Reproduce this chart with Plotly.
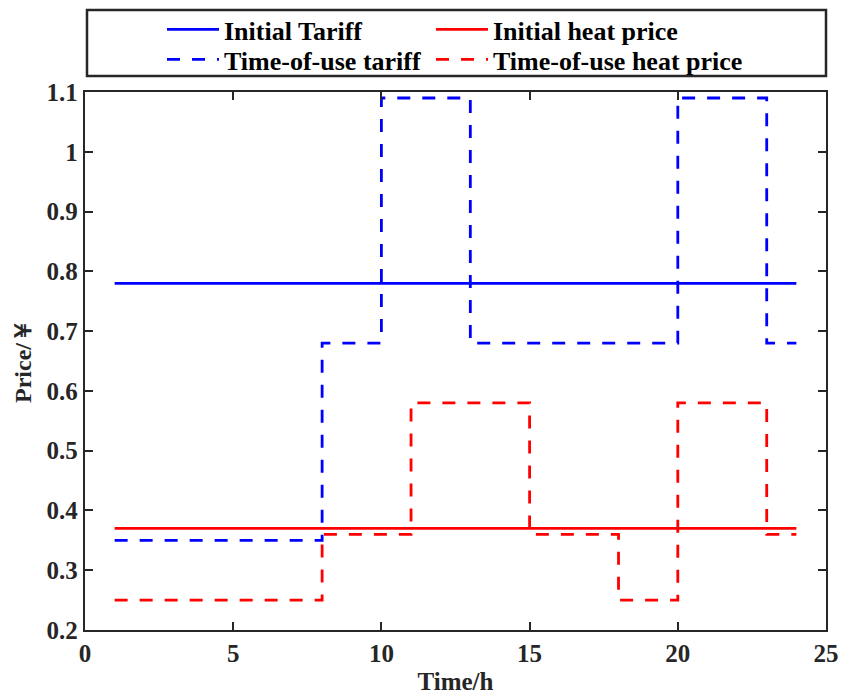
import plotly.graph_objects as go

# Hourly prices (hour 1..24), drawn as stairs
hours = list(range(1, 25))
initial_tariff = [0.78] * 24
initial_heat = [0.37] * 24
tou_tariff = [0.35, 0.35, 0.35, 0.35, 0.35, 0.35, 0.35, 0.68, 0.68, 1.09, 1.09, 1.09,
              0.68, 0.68, 0.68, 0.68, 0.68, 0.68, 0.68, 1.09, 1.09, 1.09, 0.68, 0.68]
tou_heat = [0.25, 0.25, 0.25, 0.25, 0.25, 0.25, 0.25, 0.36, 0.36, 0.36, 0.58, 0.58,
            0.58, 0.58, 0.36, 0.36, 0.36, 0.25, 0.25, 0.58, 0.58, 0.58, 0.36, 0.36]

names = ["Initial Tariff", "Initial heat price", "Time-of-use tariff", "Time-of-use heat price"]
series = [initial_tariff, initial_heat, tou_tariff, tou_heat]
colors = ["#0000FF", "#FF0000", "#0000FF", "#FF0000"]
dashes = ["solid", "solid", "13px,12px", "13px,12px"]

FONT = "Liberation Serif"
AX = "#262626"

# one single-entry legend per key, laid out as a 2x2 grid above the axes
legend_ids = ["legend", "legend2", "legend3", "legend4"]
legend_x = [(162 - 85) / 741, (431 - 85) / 741, (162 - 85) / 741, (431 - 85) / 741]
legend_y = [(630 - 29.5) / 538, (630 - 29.5) / 538, (630 - 59.5) / 538, (630 - 59.5) / 538]

fig = go.Figure()
for name, ys, c, d, lg in zip(names, series, colors, dashes, legend_ids):
    fig.add_trace(go.Scatter(
        x=hours, y=ys, mode="lines", name=f"<b>{name}</b>", line_shape="hv",
        line=dict(color=c, width=2.8, dash=d), legend=lg,
    ))

y_ticks = [0.2, 0.3, 0.4, 0.5, 0.6, 0.7, 0.8, 0.9, 1.0, 1.1]
y_labels = ["0.2", "0.3", "0.4", "0.5", "0.6", "0.7", "0.8", "0.9", "1", "1.1"]
x_ticks = [0, 5, 10, 15, 20, 25]

legend_style = dict(
    orientation="v", xanchor="left", yanchor="middle",
    itemwidth=52, tracegroupgap=0,
    font=dict(family=FONT, size=26, color="black", weight="bold"),
    bgcolor="rgba(0,0,0,0)",
)
legends = {lg: dict(x=lx, y=ly, **legend_style)
           for lg, lx, ly in zip(legend_ids, legend_x, legend_y)}

fig.update_layout(
    width=842, height=695,
    margin=dict(l=85, r=16, t=92, b=65, autoexpand=False),
    plot_bgcolor="white", paper_bgcolor="white",
    font=dict(family=FONT, size=25, color="black"),
    showlegend=True,
    **legends,
    xaxis=dict(
        range=[0, 25], tickvals=x_ticks, ticks="inside", ticklen=8, tickwidth=2,
        showline=True, linecolor=AX, linewidth=2.3, mirror="ticks", tickcolor=AX,
        showgrid=False, zeroline=False, ticklabelstandoff=0,
        tickfont=dict(family=FONT, size=25, color=AX, weight="bold"),
        title=dict(text="<b>Time/h</b>", font=dict(family=FONT, size=25, color=AX), standoff=9),
    ),
    yaxis=dict(
        range=[0.2, 1.1], tickvals=y_ticks, ticktext=y_labels, ticks="inside", ticklen=8,
        tickwidth=2, showline=True, linecolor=AX, linewidth=2.3, mirror="ticks",
        tickcolor=AX, showgrid=False, zeroline=False,
        tickfont=dict(family=FONT, size=25, color=AX, weight="bold"),
        title=dict(text="<b>Price/￥</b>", font=dict(family=FONT, size=24, color=AX), standoff=8),
    ),
)

# Frame around the legend
fig.add_shape(type="rect", xref="paper", yref="paper",
              x0=0.0027, x1=1.0, y0=1.0297, y1=1.1524,
              line=dict(color=AX, width=2.5), fillcolor="rgba(0,0,0,0)")

fig.write_html("out.html")
